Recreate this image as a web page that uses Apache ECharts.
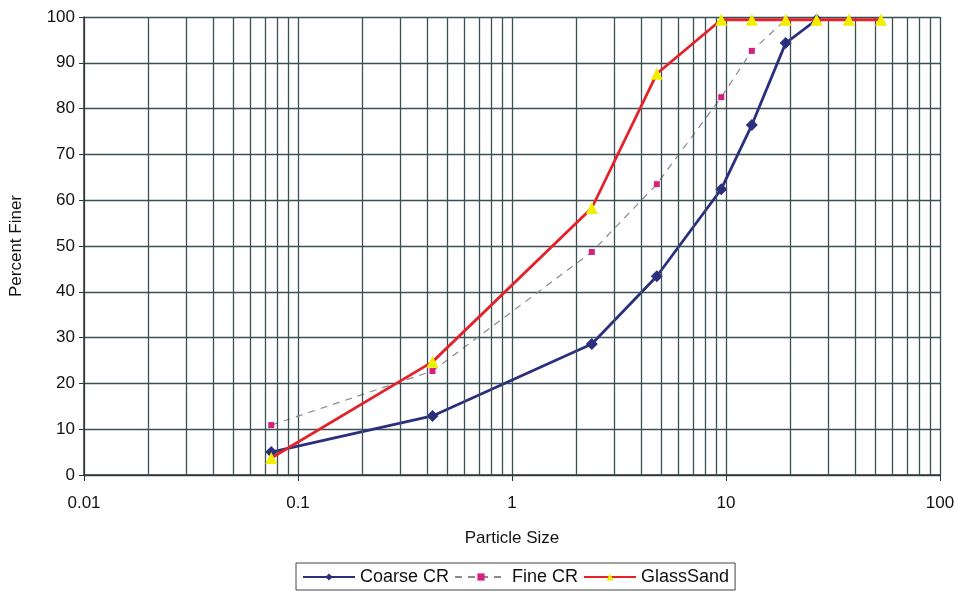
<!DOCTYPE html>
<html><head><meta charset="utf-8">
<script src="https://cdn.jsdelivr.net/npm/echarts@6/dist/echarts.min.js"></script>
<style>html,body{margin:0;padding:0;background:#fff}#c{width:958px;height:591px}</style>
</head><body><div id="c"></div>
<script>
const sieveSizes = [0.075, 0.425, 2.36, 4.75, 9.5, 13.2, 19, 26.5, 37.5, 53];
const coarseCR = [5.0, 12.9, 28.6, 43.4, 62.4, 76.4, 94.3, 99.4];
const fineCR = [10.9, 22.7, 48.7, 63.5, 82.5, 92.6, 99.4];
const glassSand = [3.7, 24.7, 58.3, 87.6, 99.4, 99.4, 99.4, 99.4, 99.4, 99.4];
const xTicks = [0.01, 0.1, 1, 10, 100];
const minorGrid = [0.02,0.03,0.04,0.05,0.06,0.07,0.08,0.09,
                   0.2,0.3,0.4,0.5,0.6,0.7,0.8,0.9,
                   2,3,4,5,6,7,8,9,
                   20,30,40,50,60,70,80,90];

function pairs(vals){ return vals.map((v,i)=>[sieveSizes[i], v]); }
const gridColor = '#3a5053';
const chart = echarts.init(document.getElementById('c'), null, {renderer:'canvas'});
chart.setOption({
  animation:false,
  textStyle:{fontFamily:'Liberation Sans, Arial, sans-serif'},
  grid:{left:84, right:18, top:17, bottom:116, containLabel:false},
  xAxis:{
    type:'log', logBase:10, min:0.01, max:100,
    name:'Particle Size', nameLocation:'middle', nameGap:55,
    nameTextStyle:{fontSize:17, color:'#111'},
    axisLine:{show:true, onZero:false, lineStyle:{color:'#333', width:1.5}},
    axisTick:{show:true, inside:false, length:6, lineStyle:{color:'#333'}},
    axisLabel:{fontSize:17, color:'#111', margin:20, formatter:v=>{
      const t = xTicks.find(x=>Math.abs(x-v)/x<1e-6); return t===undefined?'':String(t);}},
    splitLine:{show:true, lineStyle:{color:gridColor, width:1.3}},
    minorTick:{show:false}, minorSplitLine:{show:false}
  },
  yAxis:{
    type:'value', min:0, max:100, interval:10,
    name:'Percent Finer', nameLocation:'middle', nameGap:59,
    nameTextStyle:{fontSize:17, color:'#111'},
    axisLine:{show:true, lineStyle:{color:'#333', width:1.5}},
    axisTick:{show:true, length:5, lineStyle:{color:'#333'}},
    axisLabel:{fontSize:17, color:'#111', margin:9},
    splitLine:{show:true, lineStyle:{color:gridColor, width:1.3}}
  },
  legend:{
    bottom:1, left:296, itemGap:5, padding:[5,6,4,6],
    borderColor:'#444', borderWidth:1,
    itemWidth:52, itemHeight:9,
    textStyle:{fontSize:18, color:'#111'},
    data:['Coarse CR','Fine CR','GlassSand']
  },
  series:[
    {name:'grid', type:'line', data:[], silent:true, z:1,
     markLine:{silent:true, symbol:'none', label:{show:false},
       lineStyle:{color:gridColor, width:1.3, type:'solid'},
       data: minorGrid.map(v=>({xAxis:v}))}},
    {name:'Fine CR', type:'line', data:pairs(fineCR), z:3,
     symbol:'rect', symbolSize:6,
     itemStyle:{color:'#d81f7e'},
     lineStyle:{color:'#8a8a8a', width:1.2, type:[7,6]}},
    {name:'Coarse CR', type:'line', data:pairs(coarseCR), z:4,
     symbol:'diamond', symbolSize:12,
     itemStyle:{color:'#2c2f7e'},
     lineStyle:{color:'#2c2f7e', width:2.8}},
    {name:'GlassSand', type:'line', data:pairs(glassSand), z:5,
     symbol:'triangle', symbolSize:12,
     itemStyle:{color:'#f2ee00'},
     lineStyle:{color:'#e3232b', width:2.8}}
  ]
});
</script></body></html>
